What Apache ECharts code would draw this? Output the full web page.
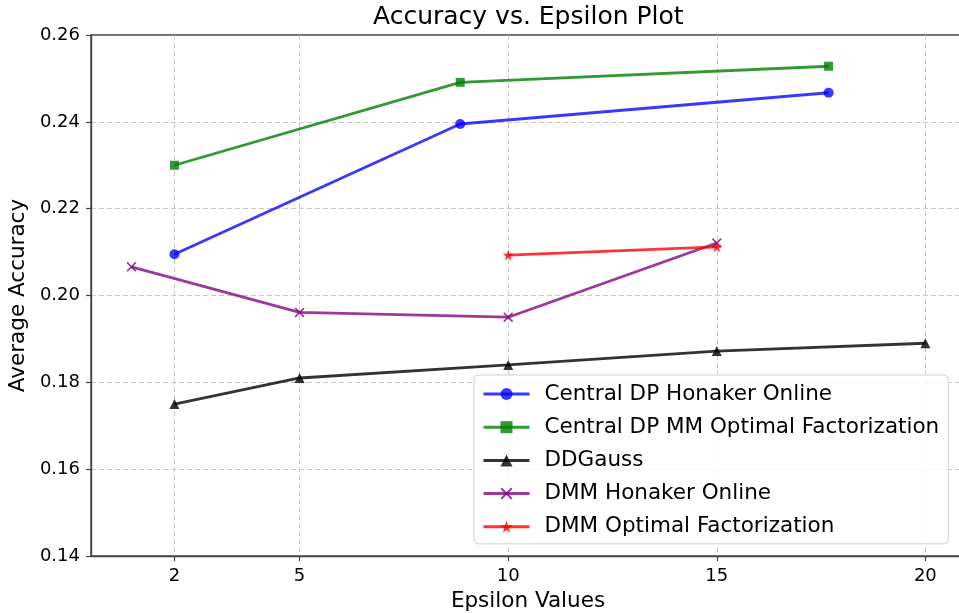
<!DOCTYPE html>
<html>
<head>
<meta charset="utf-8">
<script src="https://cdn.jsdelivr.net/npm/echarts@6/dist/echarts.min.js"></script>
<style>
  html, body { margin: 0; padding: 0; background: #fff; }
  #chart { width: 959px; height: 613px; }
</style>
</head>
<body>
<div id="chart"></div>
<script>
// epsilon values (x) and average accuracy (y)
const epsCentral = [2, 8.85, 17.68];
const honakerCentral = [0.2095, 0.2395, 0.2467];
const mmCentral = [0.2300, 0.2491, 0.2528];

const epsDDGauss = [2, 5, 10, 15, 20];
const ddGauss = [0.1750, 0.1810, 0.1840, 0.1872, 0.1890];

const epsDmmHonaker = [0.97, 5, 10, 15];
const dmmHonaker = [0.2066, 0.1961, 0.1950, 0.2121];

const epsDmmOpt = [10, 15];
const dmmOpt = [0.2093, 0.2112];

const xTicks = [2, 5, 10, 15, 20];

const FONT = "DejaVu Sans";
const AXIS_COLOR = "#444";

// matplotlib-like markers which echarts lacks
const crossPath = "path://M0,1.2L1.2,0L5,3.8L8.8,0L10,1.2L6.2,5L10,8.8L8.8,10L5,6.2L1.2,10L0,8.8L3.8,5Z";
const starPath = "path://M50,0L61.2,34.5L97.6,34.5L68.2,55.9L79.4,90.5L50,69.1L20.6,90.5L31.8,55.9L2.4,34.5L38.8,34.5Z";

function pairs(xs, ys) {
  return xs.map((x, i) => [x, ys[i]]);
}

function lineSeries(name, xs, ys, color, symbol, size) {
  return {
    name: name,
    type: "line",
    data: pairs(xs, ys),
    symbol: symbol,
    symbolSize: size,
    showSymbol: true,
    lineStyle: { color: color, width: 2.8 },
    itemStyle: { color: color },
    emphasis: { disabled: true }
  };
}

const chart = echarts.init(document.getElementById("chart"));

chart.setOption({
  animation: false,
  backgroundColor: "#fff",
  textStyle: { fontFamily: FONT },
  title: {
    text: "Accuracy vs. Epsilon Plot",
    left: 373,
    top: 5,
    padding: 0,
    textStyle: { fontFamily: FONT, fontSize: 25, fontWeight: "normal", color: "#000" }
  },
  grid: {
    left: 91,
    top: 35,
    bottom: 57,
    right: -6,
    outerBoundsMode: "none",
    containLabel: false,
    show: true,
    borderColor: AXIS_COLOR,
    borderWidth: 1.4,
    backgroundColor: "transparent"
  },
  legend: {
    orient: "vertical",
    left: 474,
    top: 375,
    padding: [7, 9, 5, 8],
    itemWidth: 46,
    itemHeight: 15,
    itemGap: 9.2,
    backgroundColor: "rgba(255,255,255,0.85)",
    borderColor: "#d0d0d0",
    borderWidth: 1,
    borderRadius: 4,
    lineStyle: { width: 3 },
    textStyle: {
      fontFamily: FONT,
      fontSize: 21.5,
      lineHeight: 24,
      color: "#000",
      padding: [0, 0, 0, 10]
    },
    data: [
      "Central DP Honaker Online",
      "Central DP MM Optimal Factorization",
      "DDGauss",
      "DMM Honaker Online",
      "DMM Optimal Factorization"
    ]
  },
  xAxis: {
    type: "value",
    min: 0,
    max: 20.95,
    name: "Epsilon Values",
    nameLocation: "middle",
    nameGap: 34,
    nameTextStyle: { fontFamily: FONT, fontSize: 21.5, color: "#000" },
    axisLine: { show: true, lineStyle: { color: AXIS_COLOR, width: 1.4 } },
    axisTick: { show: true, length: 5, customValues: xTicks, lineStyle: { color: AXIS_COLOR, width: 1.2 } },
    axisLabel: { customValues: xTicks, margin: 11, fontFamily: FONT, fontSize: 18, color: "#000" },
    splitLine: { show: true, lineStyle: { color: "#c8c8c8", type: [5, 3], width: 1 } }
  },
  yAxis: {
    type: "value",
    min: 0.14,
    max: 0.26,
    interval: 0.02,
    name: "Average Accuracy",
    nameLocation: "middle",
    nameGap: 55,
    nameTextStyle: { fontFamily: FONT, fontSize: 21.5, color: "#000" },
    axisLine: { show: true, lineStyle: { color: AXIS_COLOR, width: 1.4 } },
    axisTick: { show: true, length: 5, lineStyle: { color: AXIS_COLOR, width: 1.2 } },
    axisLabel: {
      margin: 11,
      fontFamily: FONT,
      fontSize: 18,
      color: "#000",
      formatter: v => v.toFixed(2)
    },
    splitLine: {
      show: true,
      showMinLine: false,
      showMaxLine: false,
      lineStyle: { color: "#c8c8c8", type: [5, 3], width: 1 }
    }
  },
  series: [
    lineSeries("Central DP Honaker Online", epsCentral, honakerCentral, "rgba(0,0,255,0.78)", "circle", 10),
    lineSeries("Central DP MM Optimal Factorization", epsCentral, mmCentral, "rgba(0,128,0,0.8)", "rect", 9),
    lineSeries("DDGauss", epsDDGauss, ddGauss, "rgba(0,0,0,0.8)", "triangle", 10),
    lineSeries("DMM Honaker Online", epsDmmHonaker, dmmHonaker, "rgba(128,0,128,0.78)", crossPath, 10),
    lineSeries("DMM Optimal Factorization", epsDmmOpt, dmmOpt, "rgba(255,0,0,0.8)", starPath, 11)
  ]
});
</script>
</body>
</html>
